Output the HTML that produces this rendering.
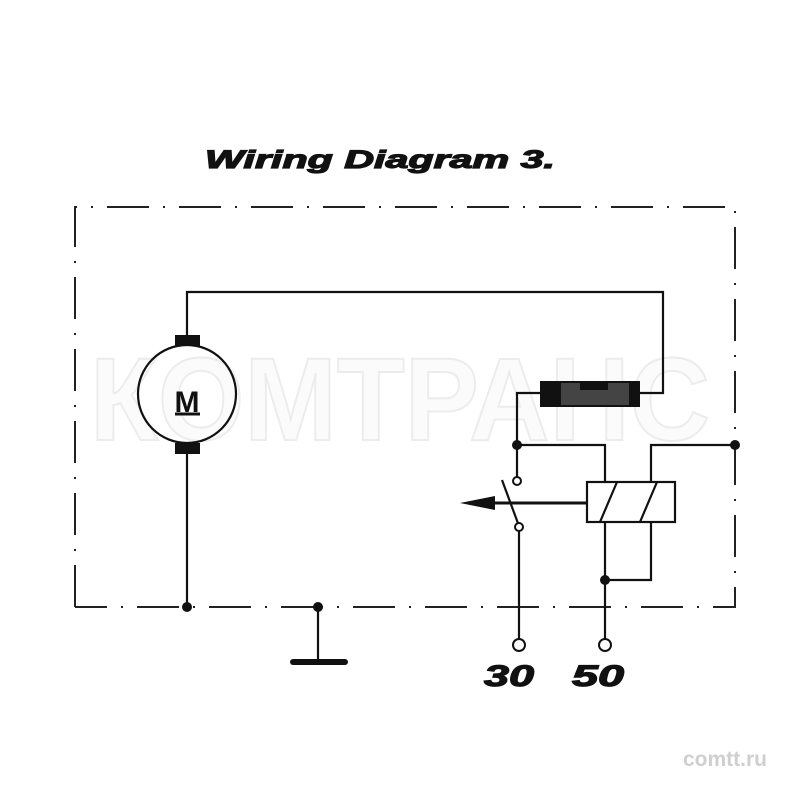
<!DOCTYPE html>
<html><head><meta charset="utf-8"><style>
html,body{margin:0;padding:0;background:#fff;width:800px;height:800px;overflow:hidden}
</style></head><body>
<svg width="800" height="800" viewBox="0 0 800 800" xmlns="http://www.w3.org/2000/svg">
<rect width="800" height="800" fill="#fff"/>
<text x="400" y="440" text-anchor="middle" font-family="Liberation Sans, sans-serif" font-weight="bold" font-size="118" fill="#fbfbfb" stroke="#ececec" stroke-width="2" textLength="620" lengthAdjust="spacingAndGlyphs">КОМТРАНС</text>
<text x="205" y="168" font-family="Liberation Sans, sans-serif" font-weight="bold" font-style="italic" font-size="25" fill="#111" stroke="#111" stroke-width="1.2" textLength="350" lengthAdjust="spacingAndGlyphs">Wiring Diagram 3.</text>
<g stroke="#222" stroke-width="2" fill="none" stroke-dasharray="42,14,2,14">
<path d="M75,607 L75,207 L735,207 L735,607 L75,607"/>
</g>
<g stroke="#111" stroke-width="2.2" fill="none">
<circle cx="187" cy="394" r="49"/>
<path d="M187,340 L187,292 L663,292 L663,393 L638,393"/>
<path d="M187,450 L187,607"/>
<path d="M541,393 L517,393 L517,477"/>
<path d="M517,445 L605,445 L605,482"/>
<path d="M735,445 L651,445 L651,482"/>
<rect x="587" y="482" width="88" height="40"/>
<path d="M600,522 L617,482 M640,522 L657,482"/>
<path d="M605,522 L605,640 M651,522 L651,580 L605,580"/>
<path d="M519,531 L519,640"/>
<path d="M502,480 L519,526"/>
<path d="M318,607 L318,662"/>
</g>
<path d="M495,503 L587,503" stroke="#111" stroke-width="3"/>
<polygon points="460,503 495,496 495,510" fill="#111"/>
<line x1="293" y1="662" x2="345" y2="662" stroke="#111" stroke-width="6" stroke-linecap="round"/>
<rect x="175" y="335" width="25" height="11" fill="#111"/>
<rect x="175" y="443" width="25" height="11" fill="#111"/>
<rect x="540" y="381" width="100" height="26" fill="#111"/>
<rect x="561" y="383" width="68" height="22" fill="#444"/>
<rect x="580" y="381" width="28" height="9" fill="#111"/>
<text x="187" y="412" text-anchor="middle" font-family="Liberation Sans, sans-serif" font-weight="bold" font-size="30" fill="#111">M</text>
<line x1="175" y1="414" x2="200" y2="414" stroke="#111" stroke-width="3"/>
<g fill="#111">
<circle cx="517" cy="445" r="5"/><circle cx="735" cy="445" r="5"/>
<circle cx="605" cy="580" r="5"/><circle cx="187" cy="607" r="5"/><circle cx="318" cy="607" r="5"/>
</g>
<g fill="#fff" stroke="#111" stroke-width="2">
<circle cx="517" cy="481" r="4"/><circle cx="519" cy="527" r="4"/>
<circle cx="519" cy="645" r="6"/><circle cx="605" cy="645" r="6"/>
</g>
<g font-family="Liberation Sans, sans-serif" font-weight="bold" font-style="italic" font-size="30" fill="#111" stroke="#111" stroke-width="1.2">
<text x="484" y="686" textLength="50" lengthAdjust="spacingAndGlyphs">30</text><text x="572" y="686" textLength="52" lengthAdjust="spacingAndGlyphs">50</text>
</g>
<text x="767" y="766" text-anchor="end" font-family="Liberation Sans, sans-serif" font-weight="bold" font-size="21" fill="#cfcfcf">comtt.ru</text>
</svg>
</body></html>
